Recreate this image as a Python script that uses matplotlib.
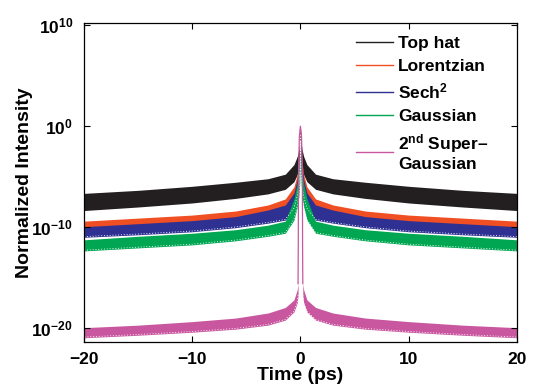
import matplotlib
matplotlib.use("Agg")
import matplotlib.pyplot as plt
import numpy as np

plt.rcParams['font.family'] = ['Liberation Sans', 'DejaVu Sans']
plt.rcParams['font.weight'] = 'bold'
plt.rcParams['mathtext.fontset'] = 'custom'
plt.rcParams['mathtext.rm'] = 'Liberation Sans:bold'
plt.rcParams['mathtext.bf'] = 'Liberation Sans:bold'
plt.rcParams['mathtext.default'] = 'bf'

# one side of each band (|t| in ps), log10 of upper / lower envelope
t_side = np.array([0, 0.05, 0.15, 0.3, 0.6, 1.4, 3, 6, 10, 15, 20])

tophat_hi = np.array([0, -1.5, -2.3, -3.0, -3.8, -4.75, -5.2, -5.55, -5.95, -6.35, -6.65])
tophat_lo = np.array([-1, -3.5, -4.3, -4.8, -5.5, -6.25, -6.7, -7.15, -7.6, -8.0, -8.35])

lor_hi = np.array([0, -2.0, -3.5, -4.8, -6.0, -7.2, -7.8, -8.4, -8.8, -9.1, -9.4])
lor_lo = np.array([-1, -3.0, -4.5, -5.8, -7.0, -8.2, -8.7, -9.3, -9.7, -10.0, -10.3])

sech_hi = np.array([0, -2.5, -4.0, -5.3, -6.6, -7.8, -8.3, -8.95, -9.35, -9.65, -9.95])
sech_lo = np.array([-1, -4.5, -6.0, -7.0, -8.2, -9.3, -9.6, -10.05, -10.45, -10.75, -11.0])

gau_hi = np.array([0, -3.0, -4.5, -5.7, -7.2, -9.4, -9.8, -10.25, -10.6, -10.9, -11.25])
gau_lo = np.array([-1.5, -5.5, -7.0, -8.0, -9.3, -10.6, -10.9, -11.35, -11.75, -12.05, -12.35])

# super-Gaussian: narrow central peak drawn as a line, floor drawn as a band
sg_t_side = np.array([0.22, 0.3, 0.6, 1.4, 3, 6, 10, 15, 20])
sg_hi = np.array([-15.6, -16.2, -17.2, -17.95, -18.5, -19.0, -19.35, -19.7, -19.95])
sg_lo = np.array([-16.8, -17.5, -18.4, -19.2, -19.7, -20.1, -20.4, -20.7, -20.95])
sg_peak_t = np.array([-0.22, -0.2, -0.18, -0.1, 0, 0.1, 0.18, 0.2, 0.22])
sg_peak = np.array([-15.6, -12, -5, -1, 0, -1, -5, -12, -15.6])

labels = ['Top hat', 'Lorentzian', 'Sech$^2$', 'Gaussian', '2$^{nd}$ Super\u2013\nGaussian']
colors = ['#231f20', '#f04e23', '#2e3192', '#00a651', '#c957a0']


def mirror(ts, v):
    return np.concatenate([-ts[::-1], ts[1:]]), np.concatenate([v[::-1], v[1:]])


fig = plt.figure(figsize=(5.36, 3.87), dpi=100)
ax = fig.add_axes([0.157, 0.1155, 0.807, 0.8245])

notch = dict(color='white', lw=0.6, ls=(0, (1.2, 2.2)))

bands = [(tophat_hi, tophat_lo), (lor_hi, lor_lo), (sech_hi, sech_lo), (gau_hi, gau_lo)]
for i, (hi, lo) in enumerate(bands):
    t, h = mirror(t_side, hi)
    _, l = mirror(t_side, lo)
    ax.fill_between(t, 10.0 ** l, 10.0 ** h, color=colors[i], lw=0)
    if i >= 2:
        ax.plot(t, 10.0 ** (l + 0.07), **notch)
    ax.plot([], [], color=colors[i], lw=1, label=labels[i])

# super-Gaussian band, both sides
for s in (-1, 1):
    ax.fill_between(s * sg_t_side, 10.0 ** sg_lo, 10.0 ** sg_hi, color=colors[4], lw=0)
    ax.plot(s * sg_t_side, 10.0 ** (sg_lo + 0.07), **notch)
ax.plot(sg_peak_t, 10.0 ** sg_peak, color=colors[4], lw=0.9)
ax.plot([], [], color=colors[4], lw=1, label=labels[4])

ax.set_yscale('log')
ax.set_xlim(-20, 20)
ax.set_ylim(10 ** -21.4, 10 ** 10.2)
ax.set_xticks([-20, -10, 0, 10, 20])
ax.set_xticklabels(['\u221220', '\u221210', '0', '10', '20'])
ax.set_yticks([1e-20, 1e-10, 1e0, 1e10])
ax.set_yticklabels(['$10^{-20}$', '$10^{-10}$', '$10^{0}$', '$10^{10}$'])
ax.minorticks_off()
ax.tick_params(direction='in', top=True, right=True, length=4, width=0.8,
               labelsize=12.5)
ax.tick_params(axis='x', pad=7)
ax.tick_params(axis='y', pad=8)
for sp in ax.spines.values():
    sp.set_linewidth(0.9)

ax.set_xlabel('Time (ps)', fontsize=14, fontweight='bold', labelpad=0)
ax.set_ylabel('Normalized Intensity', fontsize=14, fontweight='bold', labelpad=-1)

leg = ax.legend(loc='upper left', bbox_to_anchor=(0.629, 0.96), frameon=False,
                fontsize=12.5, handlelength=2.1, handletextpad=0.3,
                labelspacing=0.44, borderpad=0, borderaxespad=0)

fig.savefig('out.png', dpi=100)
